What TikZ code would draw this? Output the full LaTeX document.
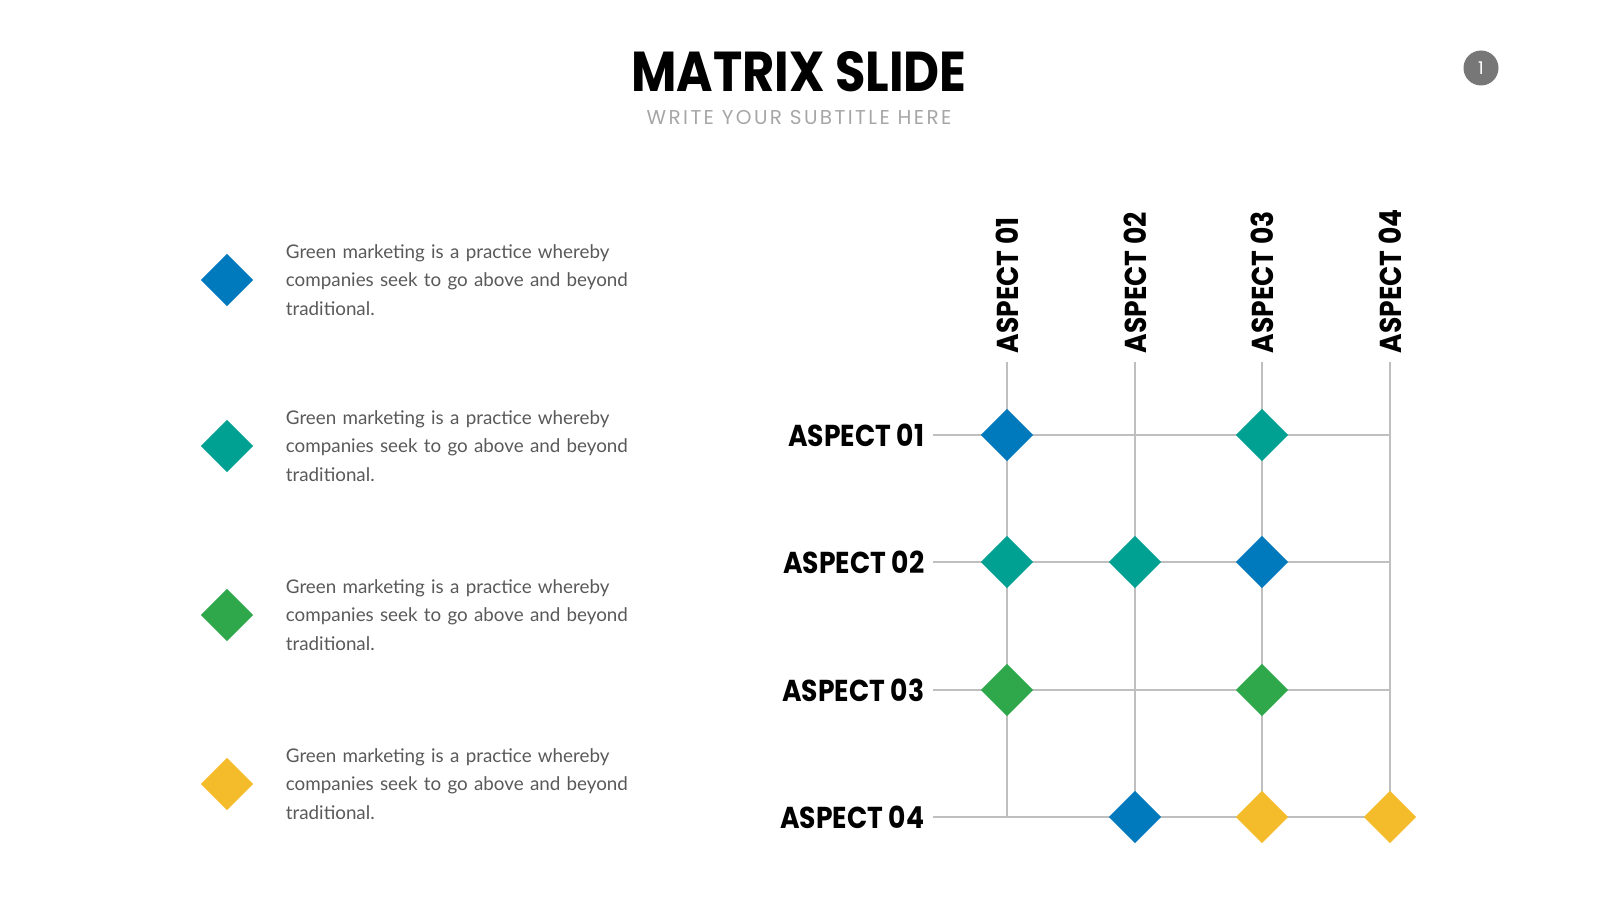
\documentclass[tikz,border=0pt]{standalone}
\usepackage{fontspec}
\setmainfont{Lato}
\newfontfamily\poppins{Poppins}
\newfontfamily\poppinsn[FakeStretch=0.88]{Poppins}
\newfontfamily\spaced[LetterSpace=12]{Poppins}
\usetikzlibrary{shapes.geometric, positioning}
\definecolor{mblue}{RGB}{0,122,188}
\definecolor{mteal}{RGB}{0,160,146}
\definecolor{mgreen}{RGB}{46,168,74}
\definecolor{myellow}{RGB}{244,187,42}
\definecolor{gridgray}{RGB}{191,191,191}
\definecolor{bodygray}{RGB}{89,89,89}
\definecolor{subgray}{RGB}{166,166,166}
\definecolor{numgray}{RGB}{119,119,119}
\newcommand{\nohyph}{\hyphenpenalty=10000\relax}

\begin{document}
\begin{tikzpicture}[
    x=0.1mm, y=-0.1mm,
    gem/.style={diamond, aspect=1, inner sep=0pt, minimum size=5.3mm},
    bluegem/.style={gem, fill=mblue},
    tealgem/.style={gem, fill=mteal},
    greengem/.style={gem, fill=mgreen},
    yellowgem/.style={gem, fill=myellow},
    desc/.style={inner sep=0pt, text width=3.55cm, align=left, text=bodygray, font=\fontsize{5.35pt}{8.1pt}\selectfont\nohyph},
    rowlabel/.style={anchor=east, inner sep=0pt, font=\poppinsn\bfseries\fontsize{8.6pt}{10pt}\selectfont},
    collabel/.style={rotate=90, anchor=west, inner sep=0pt, font=\poppinsn\bfseries\fontsize{8.6pt}{10pt}\selectfont},
    gridline/.style={draw=gridgray, line width=0.2mm}
  ]
    \useasboundingbox (0,0) rectangle (1600,900);

    % Header
    \node[font=\poppinsn\bfseries\fontsize{16pt}{20pt}\selectfont] (title) at (799,72) {MATRIX SLIDE};
    \node[text=subgray, font=\spaced\fontsize{5.7pt}{7pt}\selectfont] (subtitle) at (799,118) {WRITE YOUR SUBTITLE HERE};
    \node[circle, fill=numgray, minimum size=3.5mm, inner sep=0pt, text=white, font=\poppins\fontsize{5pt}{6pt}\selectfont] (pagenum) at (1481,68) {1};

    % Legend
    \node[bluegem] (lg1) at (227,280) {};
    \node[tealgem] (lg2) at (227,446) {};
    \node[greengem] (lg3) at (227,615) {};
    \node[yellowgem] (lg4) at (227,784) {};
    \node[desc, right=3.1mm of lg1] (txt1) {Green marketing is a practice whereby companies seek to go above and beyond traditional.};
    \node[desc, right=3.1mm of lg2] (txt2) {Green marketing is a practice whereby companies seek to go above and beyond traditional.};
    \node[desc, right=3.1mm of lg3] (txt3) {Green marketing is a practice whereby companies seek to go above and beyond traditional.};
    \node[desc, right=3.1mm of lg4] (txt4) {Green marketing is a practice whereby companies seek to go above and beyond traditional.};

    % Row and column labels
    \node[rowlabel] (row1) at (925,435) {ASPECT 01};
    \node[rowlabel] (row2) at (925,562) {ASPECT 02};
    \node[rowlabel] (row3) at (925,690) {ASPECT 03};
    \node[rowlabel] (row4) at (925,817) {ASPECT 04};
    \node[collabel] (col1) at (1007,354) {ASPECT 01};
    \node[collabel] (col2) at (1135,354) {ASPECT 02};
    \node[collabel] (col3) at (1262,354) {ASPECT 03};
    \node[collabel] (col4) at (1390,354) {ASPECT 04};

    % Grid ends
    \coordinate (r1s) at (933,435);
    \coordinate (r2s) at (933,562);
    \coordinate (r3s) at (933,690);
    \coordinate (r4s) at (933,817);
    \coordinate (r1e) at (1390,435);
    \coordinate (r2e) at (1390,562);
    \coordinate (r3e) at (1390,690);
    \coordinate (r4e) at (1390,817);
    \coordinate (c1s) at (1007,362);
    \coordinate (c2s) at (1135,362);
    \coordinate (c3s) at (1262,362);
    \coordinate (c4s) at (1390,362);
    \coordinate (c1e) at (1007,817);
    \coordinate (c2e) at (1135,817);
    \coordinate (c3e) at (1262,817);
    \coordinate (c4e) at (1390,817);

    % Grid
    \draw[gridline] (r1s) -- (r1e);
    \draw[gridline] (r2s) -- (r2e);
    \draw[gridline] (r3s) -- (r3e);
    \draw[gridline] (r4s) -- (r4e);
    \draw[gridline] (c1s) -- (c1e);
    \draw[gridline] (c2s) -- (c2e);
    \draw[gridline] (c3s) -- (c3e);
    \draw[gridline] (c4s) -- (c4e);

    % Cells
    \node[bluegem] (m11) at (1007,435) {};
    \node[tealgem] (m13) at (1262,435) {};
    \node[tealgem] (m21) at (1007,562) {};
    \node[tealgem] (m22) at (1135,562) {};
    \node[bluegem] (m23) at (1262,562) {};
    \node[greengem] (m31) at (1007,690) {};
    \node[greengem] (m33) at (1262,690) {};
    \node[bluegem] (m42) at (1135,817) {};
    \node[yellowgem] (m43) at (1262,817) {};
    \node[yellowgem] (m44) at (1390,817) {};
  \end{tikzpicture}
\end{document}
